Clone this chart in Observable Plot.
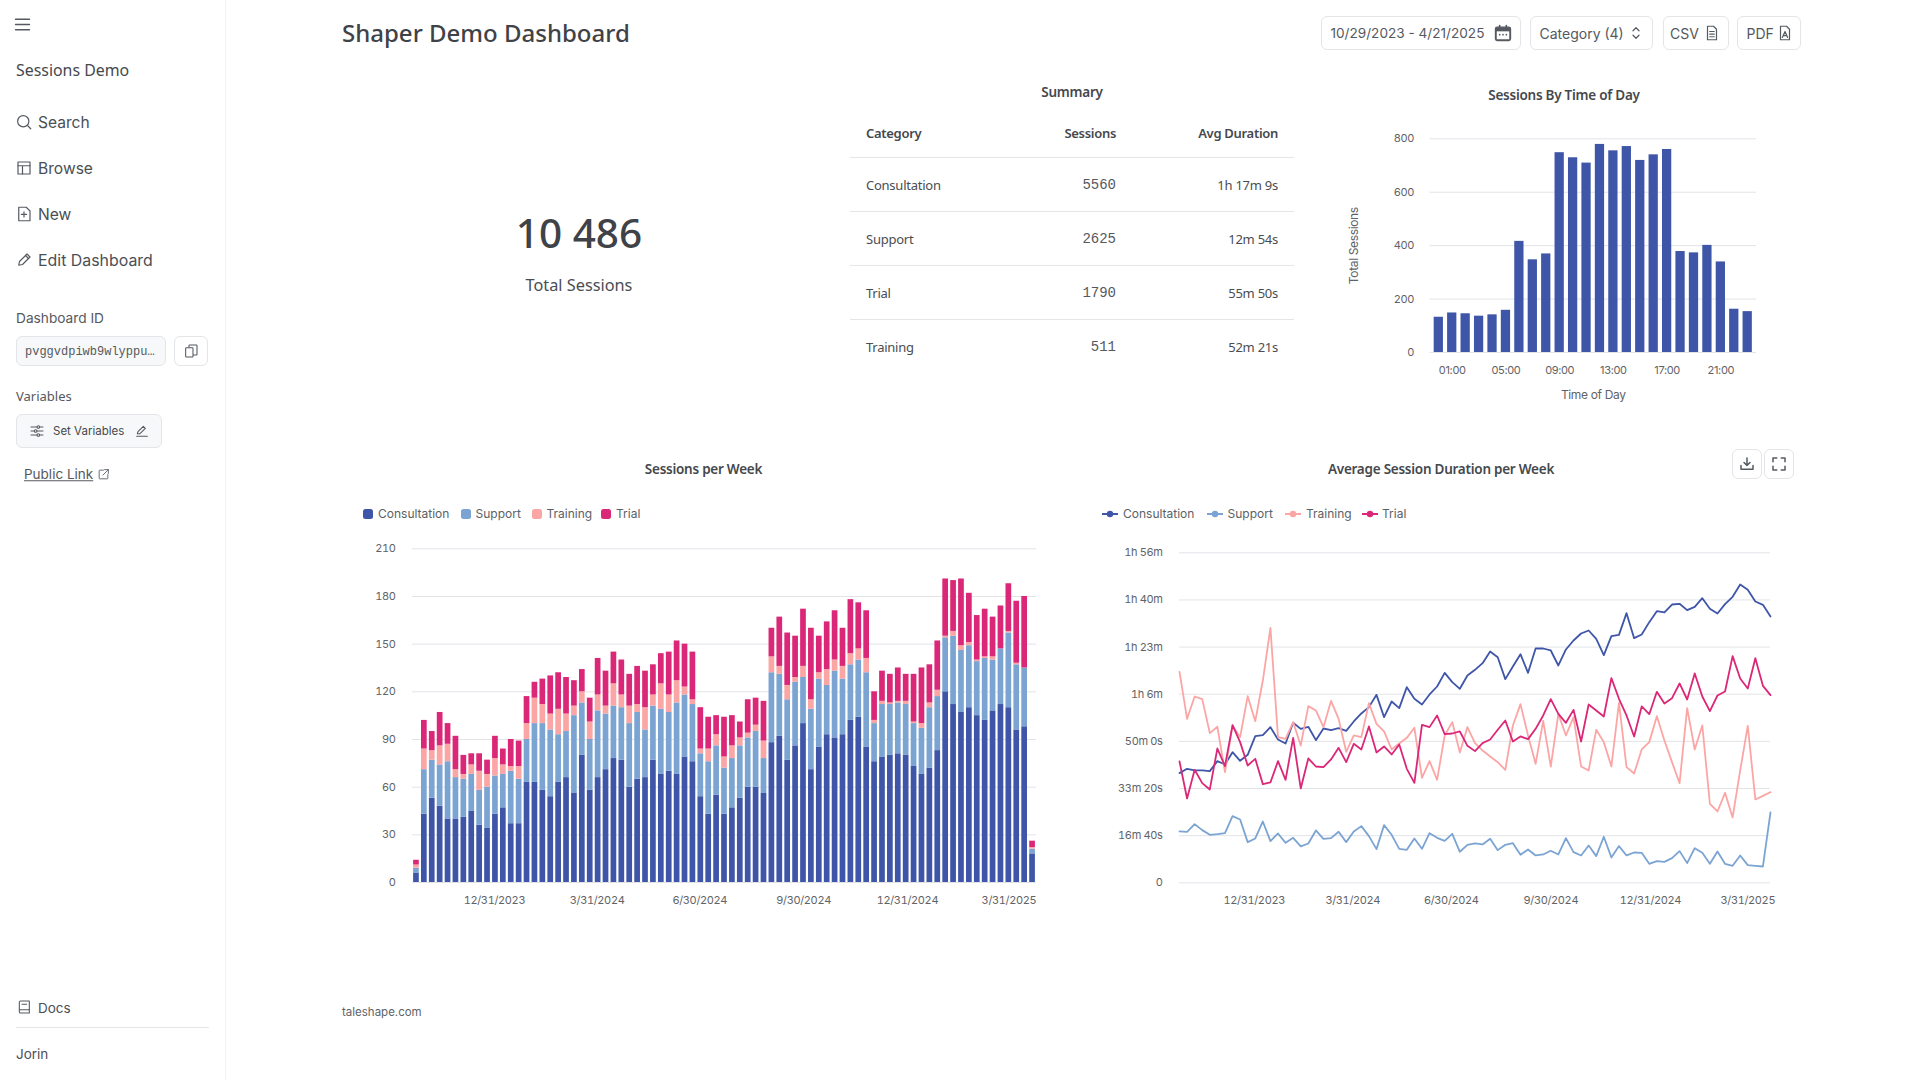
<!DOCTYPE html>
<html>
<head>
<meta charset="utf-8">
<script src="https://cdn.jsdelivr.net/npm/d3@7"></script>
<script src="https://cdn.jsdelivr.net/npm/@observablehq/plot@0.6"></script>
<style>
html,body{margin:0;padding:0;background:#fff;width:1920px;height:1080px;overflow:hidden;font-family:"Noto Sans",sans-serif;color:#3f4247}
.a{position:absolute;white-space:nowrap;line-height:1}
.nav{font-family:Inter,sans-serif;font-size:15.6px;color:#4b4f55;transform:translateY(-50%)}
.box{position:absolute;box-sizing:border-box;border:1px solid #e3e5e8;border-radius:6px;background:#fff}
.ctl{font-family:Inter,sans-serif;font-size:13.6px;color:#55585e;transform:translateY(-50%)}
.title{font-family:"Noto Sans",sans-serif;font-weight:600;font-size:13.5px;letter-spacing:-0.25px;color:#45484d;transform:translate(-50%,-50%)}
.leg{font-family:Inter,sans-serif;font-size:12px;color:#5b5f66;transform:translateY(-50%)}
.td{font-size:13px;letter-spacing:-0.25px;color:#4a4d52;transform:translateY(-50%)}
.th{font-size:13px;letter-spacing:-0.3px;font-weight:600;color:#45484d;transform:translateY(-50%)}
.r{transform:translate(-100%,-50%)}
.mono{font-family:"Liberation Mono","DejaVu Sans Mono",monospace;font-size:14px;letter-spacing:0;color:#55585e}
.rule{position:absolute;height:1px;background:#e4e6e9}
.icon{position:absolute;fill:none;stroke:#555a60;stroke-width:1.6;stroke-linecap:round;stroke-linejoin:round}
.chart{position:absolute}
.chart svg{overflow:visible;display:block}
</style>
</head>
<body>
<div id="root"></div>
<script>
const seriesNames = ["Consultation","Support","Training","Trial"];
const seriesColors = ["#3f56a8","#7ba4d3","#fca5a5","#db2777"];

const sessionsConsultation = [6,43,53,48,40,40,41,45,36,34,43,47,37,37,63,63,58,54,63,66,56,80,58,66,71,78,77,60,65,66,77,68,70,68,79,76,54,43,55,43,47,53,60,60,56,88,92,77,86,100,71,85,93,91,93,102,104,85,76,79,80,81,80,73,68,72,83,120,112,107,110,105,102,108,112,110,96,98,18];
const sessionsSupport = [3,28,24,26,36,26,24,23,22,26,24,21,33,28,27,37,42,42,30,29,49,33,32,42,35,33,33,40,42,30,34,41,37,45,39,36,27,33,31,29,31,33,31,35,22,44,39,38,40,29,38,43,31,42,35,35,36,47,24,33,32,32,32,27,29,38,34,34,43,39,39,34,39,32,35,47,41,37,3];
const sessionsTraining = [2,13,6,12,11,5,3,6,12,8,11,6,3,8,10,16,12,10,16,11,6,7,11,10,5,14,8,11,5,14,7,16,11,14,5,3,3,8,7,7,8,5,3,4,11,10,5,9,3,7,6,4,10,7,8,7,7,9,2,2,1,1,2,1,3,3,4,1,3,3,2,1,1,2,0,1,1,0,1];
const sessionsTrial = [3,18,12,21,13,21,12,7,11,9,14,10,17,16,17,10,16,24,23,23,16,14,15,23,22,20,22,20,24,23,19,19,27,25,27,30,26,20,12,25,19,10,21,17,25,18,31,33,26,36,45,23,30,31,24,34,29,30,18,19,18,21,17,30,35,24,31,36,32,42,31,28,30,25,27,30,39,45,4];

const durationConsultation = [2326,2418,2383,2383,2368,2581,2510,2771,2588,2715,3111,3132,3302,3040,2955,3394,3266,3309,3026,3273,3238,3280,3224,3422,3592,3726,3987,3514,3846,3705,4150,3903,3782,3995,4164,4454,4256,4115,4398,4518,4659,4907,4786,4320,4588,4850,4454,4970,4970,4928,4610,4949,5140,5288,5352,5175,4829,5232,5260,5720,5189,5267,5529,5762,5734,5903,5918,5783,5854,6038,5812,5713,5911,6066,6328,6215,5967,5896,5649];
const durationSupport = [1089,1082,1244,1117,1018,1032,1053,1414,1343,863,940,1301,884,1046,848,954,771,834,1110,933,947,1082,863,1089,1202,990,714,1223,1018,721,700,940,721,1053,954,891,1039,658,806,834,813,933,693,806,841,594,707,580,601,679,601,947,650,580,792,566,976,537,778,580,643,636,403,460,445,523,672,417,735,636,403,665,403,361,580,375,361,346,1492];
const durationTraining = [4475,3478,3952,3896,3174,3309,2347,3337,3090,3959,3429,4291,5409,3090,3054,3408,2913,3747,3655,3302,3860,3478,2779,3125,3090,3811,3372,3210,2828,2955,3075,3288,2227,2581,2185,3125,3408,2764,3302,2962,2807,2680,2559,2397,3337,3790,3125,2524,3436,2467,3584,3125,3514,2467,2383,3245,2984,2467,3818,2453,2319,2828,2984,3535,3019,2559,2114,3705,2828,3337,1676,1513,1909,1386,2383,3330,1768,1845,1923];
const durationTrial = [2573,1789,2397,2114,1980,2849,2475,3344,2984,2489,2630,2093,2128,2581,2185,3075,2001,2637,2467,2453,2616,2863,2559,2948,2828,3316,2764,2892,2722,2934,2418,2121,3351,3302,3549,3153,3167,3210,2906,2793,2962,3040,3245,3443,2998,3104,3047,3266,3549,3896,3584,3394,3669,2998,3782,3655,3528,4341,3903,3549,3104,3740,3577,4051,3804,3917,4228,3888,4440,3952,3641,3973,4058,4808,4334,4122,4765,4178,3980];

const hours = ["00:00","01:00","02:00","03:00","04:00","05:00","06:00","07:00","08:00","09:00","10:00","11:00","12:00","13:00","14:00","15:00","16:00","17:00","18:00","19:00","20:00","21:00","22:00","23:00"];
const hourSessions = [132,148,145,136,141,158,416,347,369,748,729,709,779,755,771,719,740,760,378,373,401,339,162,153];
const hourTicks = ["01:00","05:00","09:00","13:00","17:00","21:00"];

const weekTickDates = ["2023-12-31","2024-03-31","2024-06-30","2024-09-30","2024-12-31","2025-03-31"];
const firstWeek = "2023-10-22";
const lastWeek = "2025-04-20";
const sessionTicks = [0,30,60,90,120,150,180,210];
const durationTicks = [0,1000,2000,3000,4000,5000,6000,7000];
const durationTickLabels = ["0","16m 40s","33m 20s","50m 0s","1h 6m","1h 23m","1h 40m","1h 56m"];
const timeTicks = [0,200,400,600,800];

const tableCategories = ["Consultation","Support","Trial","Training"];
const tableSessions = [5560,2625,1790,511];
const tableDurations = ["1h 17m 9s","12m 54s","55m 50s","52m 21s"];

const d = s => new Date(s + "T00:00:00Z");
const weeks = d3.utcDay.range(d(firstWeek), d3.utcDay.offset(d(lastWeek),1), 7);
const sessionSeries = [sessionsConsultation,sessionsSupport,sessionsTraining,sessionsTrial];
const durationSeries = [durationConsultation,durationSupport,durationTraining,durationTrial];
const longOf = arrs => arrs.flatMap((a,i)=>a.map((value,k)=>({week:weeks[k],series:seriesNames[i],value})));
const halfWeek = t => new Date(+t + 3.5*864e5);
const halfBack = t => new Date(+t - 3.5*864e5);

const root = document.getElementById("root");
function el(html){const t=document.createElement("template");t.innerHTML=html.trim();const n=t.content.firstChild;root.appendChild(n);return n;}
function text(x,y,s,cls,style=""){el(`<div class="a ${cls}" style="left:${x}px;top:${y}px;${style}">${s}</div>`);}
function box(x,y,w,h,style=""){el(`<div class="box" style="left:${x}px;top:${y}px;width:${w}px;height:${h}px;${style}"></div>`);}
function icon(x,y,s,inner,vb=24){el(`<svg class="icon" style="left:${x}px;top:${y}px" width="${s}" height="${s}" viewBox="0 0 ${vb} ${vb}">${inner}</svg>`);}

// Sidebar
el(`<div style="position:absolute;left:225px;top:0;width:1px;height:1080px;background:#f1f2f4"></div>`);
icon(12,14,21,`<path d="M4 6h16M4 12h16M4 18h16"/>`);
text(16,70.5,"Sessions Demo","",'font-size:15.9px;color:#45484d;transform:translateY(-50%)');
icon(15,113,18,`<circle cx="11" cy="11" r="7.5"/><path d="M17 17l4 4"/>`);
text(38,122.5,"Search","nav");
icon(15,159,18,`<rect x="4" y="4" width="16" height="16"/><path d="M4 9h16M10 9v11"/>`);
text(38,168.5,"Browse","nav");
icon(15,205,18,`<path d="M5 3h10l5 5v13H5z"/><path d="M12 9v7M8.5 12.5h7"/>`);
text(38,214.5,"New","nav");
icon(15,251,18,`<path d="M5 19l1-5L16 4l4 4L10 18z"/><path d="M14 6l4 4"/>`);
text(38,260.5,"Edit Dashboard","nav",'font-size:15.9px');
text(16,318.5,"Dashboard ID","",'font-family:Inter,sans-serif;font-size:13.7px;color:#55585e;transform:translateY(-50%)');
box(16,336,150,30,'background:#f7f8f9');
text(25,351.5,"pvggvdpiwb9wlyppu…","mono",'font-size:12px;transform:translateY(-50%)');
box(174,336,34,30);
icon(183,343,16,`<rect x="9" y="3" width="12" height="15" rx="1"/><rect x="4" y="7" width="11" height="14" rx="1" fill="#fff"/>`);
text(16,396,"Variables","",'font-size:13px;color:#55585e;transform:translateY(-50%)');
box(16,414,146,34,'background:#f7f8f9');
icon(29,423,16,`<path d="M3 6h18M3 12h18M3 18h18"/><circle cx="14" cy="6" r="2" fill="#f7f8f9"/><circle cx="10" cy="12" r="2" fill="#f7f8f9"/><circle cx="14" cy="18" r="2" fill="#f7f8f9"/>`);
text(53,431.5,"Set Variables","",'font-family:Inter,sans-serif;font-size:11.5px;color:#45484d;transform:translateY(-50%)');
icon(134,423,16,`<path d="M5 16l1-3 8-8 3 3-8 8z"/><path d="M4 20h16"/>`);
text(24,474.5,"Public Link","",'font-family:Inter,sans-serif;font-size:13.5px;color:#55585e;text-decoration:underline;transform:translateY(-50%)');
icon(97,468,13,`<path d="M12 4H5a1 1 0 0 0-1 1v14a1 1 0 0 0 1 1h14a1 1 0 0 0 1-1v-7"/><path d="M14 3h7v7M21 3l-10 10"/>`);
icon(16,999,16,`<path d="M5 5a2 2 0 0 1 2-2h13v18H7a2 2 0 0 1-2-2z"/><path d="M5 16h15M9 8h7"/>`);
text(38,1008.5,"Docs","nav",'font-size:13.5px');
el(`<div class="rule" style="left:16px;top:1027px;width:193px"></div>`);
text(16,1055,"Jorin","nav",'font-size:13.5px');

// Header
text(342,33,"Shaper Demo Dashboard","",'font-size:24px;font-weight:500;color:#3f4247;transform:translateY(-50%)');
box(1321,16,200,34);
text(1330.5,33.5,"10/29/2023 - 4/21/2025","ctl");
icon(1493,23,20,`<rect x="3" y="5" width="18" height="16" rx="2" fill="#555a60"/><rect x="4.5" y="10" width="15" height="9.5" fill="#fff" stroke="none"/><path d="M8 3v3M16 3v3M8 14h.01M12 14h.01M16 14h.01" stroke-width="2"/>`);
box(1530,16,123,34);
text(1539.5,33.5,"Category (4)","ctl",'font-size:14px');
icon(1627,24,18,`<path d="M8 9l4-4 4 4M8 15l4 4 4-4"/>`);
box(1662.5,16,66,34);
text(1670,33.5,"CSV","ctl",'font-size:14px');
icon(1703,24,18,`<path d="M6 3h8l4 4v14H6z"/><path d="M9 10h6M9 13.5h6M9 17h6"/>`);
box(1737,16,64,34);
text(1746.5,33.5,"PDF","ctl",'font-size:14px');
icon(1776,24,18,`<path d="M6 3h8l4 4v14H6z"/><path d="M8.5 18l3.5-8 3.5 8M10 15.5h4"/>`);

// KPI
text(579,232.5,"10 486","",'font-size:40.5px;font-weight:500;color:#3f4247;transform:translate(-50%,-50%)');
text(579,284.5,"Total Sessions","",'font-size:16.3px;color:#4a4d52;transform:translate(-50%,-50%)');

// Table
text(1072,92.5,"Summary","title");
text(866,133,"Category","th");
text(1116,133,"Sessions","th r");
text(1278,133,"Avg Duration","th r");
[157,211,265,319].forEach(y=>el(`<div class="rule" style="left:850px;top:${y}px;width:444px"></div>`));
tableCategories.forEach((c,i)=>{
  const y = 185+54*i;
  text(866,y,c,"td");
  text(1116,y,String(tableSessions[i]),"td r mono");
  text(1278,y,tableDurations[i],"td r");
});

// Titles
text(703.5,469.5,"Sessions per Week","title");
text(1441,469.5,"Average Session Duration per Week","title");
text(1564,95.5,"Sessions By Time of Day","title");

// Chart buttons
box(1732,449,30,30);
icon(1738,455,18,`<path d="M4 14v5h16v-5M12 4v10M8 10l4 4 4-4" stroke-width="2"/>`);
box(1764,449,30,30);
icon(1770,455,18,`<path d="M4 9V4h5M15 4h5v5M20 15v5h-5M9 20H4v-5" stroke-width="2"/>`);

// Legends
const legXs = [[363,378],[460.5,475.5],[531.5,546.5],[601,616]];
seriesNames.forEach((n,i)=>{
  el(`<div style="position:absolute;left:${legXs[i][0]}px;top:509px;width:10px;height:10px;border-radius:2.5px;background:${seriesColors[i]}"></div>`);
  text(legXs[i][1],514,n,"leg");
});
const legLXs = [[1102,1123],[1206.5,1227.5],[1284.5,1306],[1361.5,1382]];
seriesNames.forEach((n,i)=>{
  el(`<svg style="position:absolute;left:${legLXs[i][0]}px;top:509px" width="16" height="10"><path d="M0 5H16" stroke="${seriesColors[i]}" stroke-width="2"/><circle cx="8" cy="5" r="3.2" fill="${seriesColors[i]}"/></svg>`);
  text(legLXs[i][1],514,n,"leg");
});

const tickFont = {fontFamily:"Inter,sans-serif",fontSize:"11px",letterSpacing:"-0.35px",color:"#5f6368",background:"transparent"};
const gridC = "#e2e4e8";
const fmtDate = d3.utcFormat("%-m/%-d/%Y");
function mount(plot,x,y){const w=document.createElement("div");w.className="chart";w.style.left=x+"px";w.style.top=y+"px";w.appendChild(plot);root.appendChild(w);}

// Sessions per week
const stackData = longOf(sessionSeries);
mount(Plot.plot({
  width:720,height:386,marginLeft:76,marginRight:20,marginTop:16.3,marginBottom:36,style:tickFont,
  x:{type:"utc",domain:[halfBack(weeks[0]),halfWeek(weeks[weeks.length-1])]},
  y:{domain:[0,210]},
  color:{domain:seriesNames,range:seriesColors},
  marks:[
    Plot.ruleY(sessionTicks,{stroke:gridC}),
    Plot.rect(stackData,Plot.stackY({x:"week",x1:e=>halfBack(e.week),x2:e=>halfWeek(e.week),y:"value",fill:"series",order:seriesNames,insetLeft:1.1,insetRight:1.1})),
    Plot.axisX({ticks:weekTickDates.map(d),tickFormat:fmtDate,tickSize:0,tickPadding:13.5,dx:-1,label:null}),
    Plot.axisY({ticks:sessionTicks,tickSize:0,tickPadding:17,label:null})
  ]
}),336,532);

// Duration per week
mount(Plot.plot({
  width:680,height:386.3,marginLeft:79,marginRight:10,marginTop:20.3,marginBottom:36,style:tickFont,
  x:{type:"utc",domain:[weeks[0],weeks[weeks.length-1]]},
  y:{domain:[0,7000]},
  color:{domain:seriesNames,range:seriesColors},
  marks:[
    Plot.ruleY(durationTicks,{stroke:gridC}),
    Plot.line(longOf(durationSeries),{x:"week",y:"value",stroke:"series",z:"series",strokeWidth:1.8,curve:"linear"}),
    Plot.axisX({ticks:weekTickDates.map(d),tickFormat:fmtDate,tickSize:0,tickPadding:13.5,dx:-1,label:null}),
    Plot.axisY({ticks:durationTicks,tickFormat:v=>durationTickLabels[durationTicks.indexOf(v)],tickSize:0,tickPadding:17,label:null})
  ]
}),1100,532);

// Time of day
mount(Plot.plot({
  width:420,height:270,marginLeft:79.5,marginRight:14,marginTop:18.3,marginBottom:38,style:tickFont,
  x:{type:"band",domain:hours,padding:0.31,round:false},
  y:{domain:[0,800]},
  marks:[
    Plot.ruleY(timeTicks,{stroke:gridC}),
    Plot.barY(hours.map((h,i)=>({h,v:hourSessions[i]})),{x:"h",y:"v",fill:seriesColors[0]}),
    Plot.axisX({ticks:hourTicks,tickSize:0,tickPadding:14,label:null}),
    Plot.axisX({ticks:[],label:"Time of Day",fontSize:12,labelAnchor:"center",labelOffset:46,labelArrow:"none"}),
    Plot.axisY({ticks:timeTicks,tickSize:0,tickPadding:16,label:null}),
    Plot.axisY({ticks:[],label:"Total Sessions",fontSize:12,labelAnchor:"center",labelOffset:81,labelArrow:"none"})
  ]
}),1350,120);

// Footer
text(342,1013,"taleshape.com","",'font-family:Inter,sans-serif;font-size:11.5px;color:#5f6368;transform:translateY(-50%)');
</script>
</body>
</html>
